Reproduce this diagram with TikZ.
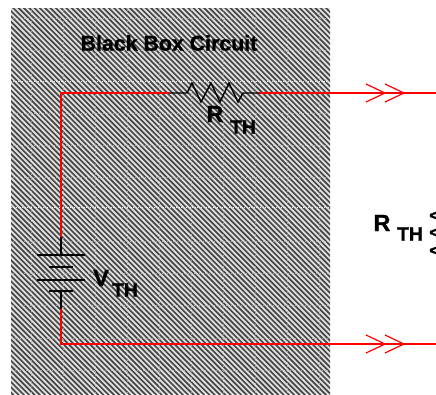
\documentclass[tikz,border=0pt]{standalone}
\usepackage{fontspec}
\setmainfont{Liberation Sans}[BoldFeatures={FakeBold=1.2}]
\tikzset{
  wire/.style={draw=red,line width=1.6pt},
  comp/.style={draw=black,line width=1.1pt},
  plate/.style={draw=black,line width=1.1pt},
  lab/.style={inner sep=0pt,text=black},
  big/.style={lab,font=\bfseries\fontsize{17.5}{18}\selectfont},
  small/.style={lab,font=\bfseries\fontsize{14.5}{15}\selectfont},
  less/.style={lab,font=\bfseries\fontsize{13}{14}\selectfont,anchor=west},
  gridline/.style={draw=white!75!black,line width=0.6pt,densely dotted,opacity=.75},
  stripe/.style={draw=black!72,line width=1.25pt}
}
\begin{document}
\begin{tikzpicture}[x=0.75pt,y=-0.75pt]
\useasboundingbox (0,0) rectangle (436,394);
\begin{scope}
\clip (11,8) rectangle (330,394);
\fill[white!88!black] (11,8) rectangle (330,394);
\foreach \i in {-85,...,70}{
  \draw[stripe] ({\i*5.3},0) -- ({\i*5.3+400},400);
}
\foreach \x in {31,63,95,127,159,191,223,255,287,319}{\draw[gridline] (\x,8) -- (\x,394);}
\foreach \y in {18,50,113,145,177,241,273,305,338,370}{\draw[gridline] (11,\y) -- (330,\y);}
\draw[draw=white!92!black,line width=0.7pt,densely dotted] (11,81) -- (330,81);
\draw[draw=white!92!black,line width=0.7pt,densely dotted] (11,207) -- (330,207);
\end{scope}
\coordinate (rl) at (169,93);
\coordinate (rr) at (259,93);
\coordinate (tr) at (436,93);
\coordinate (bt) at (61,237);
\coordinate (bb) at (61,309);
\coordinate (br) at (436,344);
\draw[wire] (bt) |- (rl);
\draw[wire] (rr) -- (tr);
\draw[wire] (bb) |- (br);
\draw[comp] (rl) -- (187,93) -- (192,83) -- (201,102) -- (211,83) -- (220,102) -- (229,83) -- (238,102) -- (243,93) -- (rr);
\draw[comp] (bt) -- (61,255);
\draw[plate] (37,255) -- (85,255);
\draw[plate] (49,267) -- (73,267);
\draw[plate,line width=2.2pt] (37,280) -- (85,280);
\draw[plate] (49,291) -- (73,291);
\draw[comp] (61,291) -- (bb);
\foreach \y in {93,344}{
  \draw[red,line width=1.9pt] (348,\y) -- (385,\y);
  \foreach \x in {366,385}{
    \draw[red,line width=0.9pt] (\x,\y-9) -- (\x+19,\y) -- (\x,\y+9);
  }
}
\node[lab,font=\bfseries\fontsize{16}{17}\selectfont] (title) at (169,43) {Black Box Circuit};
\node[big] (rth) at (215,114) {R};
\node[small] (rths) at (243,127) {TH};
\node[big] (vth) at (101,278) {V};
\node[small] (vths) at (125,290) {TH};
\node[big] (rthb) at (382,223) {R};
\node[small] (rthbs) at (410,234) {TH};
\node[less] (l1) at (429,216) {<};
\node[less] (l2) at (429,233) {<};
\node[less] (l3) at (429,251) {<};
\end{tikzpicture}
\end{document}
